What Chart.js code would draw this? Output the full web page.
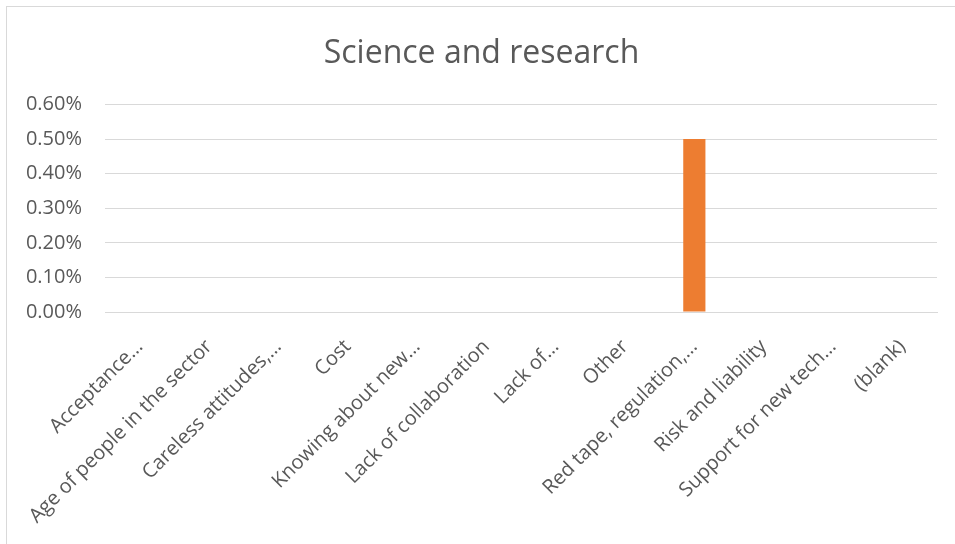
<!DOCTYPE html>
<html>
<head>
<meta charset="utf-8">
<script src="https://cdn.jsdelivr.net/npm/chart.js@4"></script>
<style>
  html, body { margin: 0; padding: 0; background: #fff; overflow: hidden; }
  #frame {
    position: absolute; left: 6px; top: 6px;
    width: 960px; height: 560px;
    border: 1px solid #d9d9d9;
  }
  #wrap { position: absolute; left: 0; top: 0; width: 955px; height: 544px; }
</style>
</head>
<body>
<div id="frame"></div>
<div id="wrap"><canvas id="chart"></canvas></div>
<script>
const categories = [
  "Acceptance…",
  "Age of people in the sector",
  "Careless attitudes,…",
  "Cost",
  "Knowing about new…",
  "Lack of collaboration",
  "Lack of…",
  "Other",
  "Red tape, regulation,…",
  "Risk and liability",
  "Support for new tech…",
  "(blank)"
];
const values = [0, 0, 0, 0, 0, 0, 0, 0, 0.005, 0, 0, 0];
const yTicks = [0, 0.001, 0.002, 0.003, 0.004, 0.005, 0.006];

const textColor = "#595959";
const gridColor = "#d9d9d9";

let ctx = document.getElementById("chart").getContext("2d");
new Chart(ctx, {
  type: "bar",
  data: {
    labels: categories,
    datasets: [
      {
        label: "Science and research",
        data: values,
        backgroundColor: "#ed7d31",
        borderWidth: 0,
        categoryPercentage: 1,
        barPercentage: 0.32,
      },
    ],
  },
  options: {
    responsive: true,
    maintainAspectRatio: false,
    animation: false,
    // some left padding so the title sits a bit right of centre, like the original
    layout: { padding: { left: 26, right: 18, top: 0, bottom: 0 } },
    plugins: {
      legend: { display: false },
      tooltip: { enabled: false },
      title: {
        display: true,
        text: "Science and research",
        color: textColor,
        font: { family: "Open Sans", size: 32, weight: "normal" },
        padding: { top: 35, bottom: 31 },
      },
    },
    scales: {
      x: {
        grid: { display: false },
        border: { display: true, color: gridColor, width: 1 },
        ticks: {
          color: textColor,
          font: { family: "Open Sans", size: 20 },
          autoSkip: false,
          maxRotation: 45,
          minRotation: 45,
          padding: 15,
        },
        afterFit: (scale) => {
          scale.height = 232;
        },
      },
      y: {
        min: 0,
        max: 0.006,
        afterBuildTicks: (scale) => {
          scale.ticks = yTicks.map((v) => ({ value: v }));
        },
        grid: { color: gridColor, lineWidth: 1, drawTicks: false },
        border: { display: false },
        ticks: {
          color: textColor,
          font: { family: "Open Sans", size: 20 },
          padding: 23,
          callback: (v) => (v * 100).toFixed(2) + "%",
        },
        afterFit: (scale) => {
          scale.width = 79;
        },
      },
    },
  },
});
</script>
</body>
</html>
